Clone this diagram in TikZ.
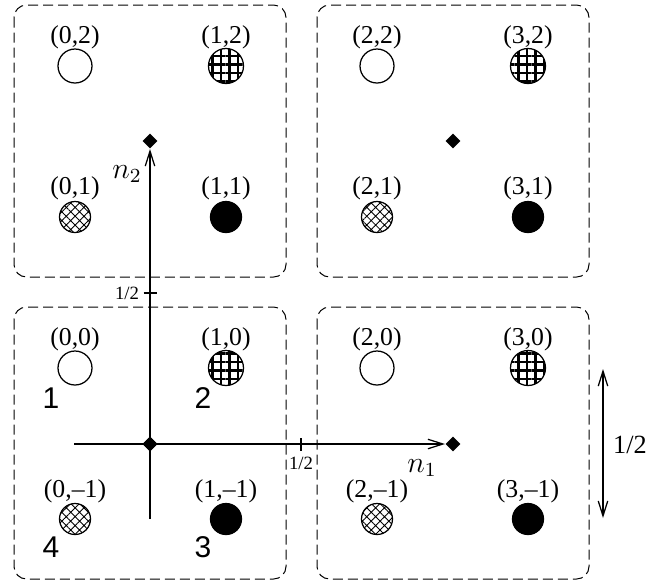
\documentclass[tikz,border=0pt]{standalone}
\usepackage{fontspec}
\setmainfont{Liberation Serif}
\newfontfamily\digitfont{Liberation Sans}
\usetikzlibrary{shapes.geometric,patterns.meta,arrows.meta}
\begin{document}
\begin{tikzpicture}[x=0.4pt,y=-0.4pt,
  box/.style={draw,dash pattern=on 4pt off 2pt,rounded corners=5pt,line width=0.4pt},
  site/.style={circle,draw,line width=0.5pt,inner sep=0pt},
  wsite/.style={site,minimum size=13.6pt,fill=white},
  gsite/.style={site,minimum size=14pt,pattern={Hatch[angle=0,distance=3.4pt,line width=0.9pt]}},
  hsite/.style={site,minimum size=12.4pt,pattern={Hatch[angle=45,distance=2.5pt,line width=0.35pt]}},
  bsite/.style={site,minimum size=12.4pt,fill=black},
  coordlab/.style={font=\fontsize{10.3}{12}\selectfont,inner sep=0pt},
  numlab/.style={font=\digitfont\fontsize{12}{14}\selectfont,inner sep=0pt},
  halflab/.style={font=\fontsize{7.5}{9}\selectfont,inner sep=0pt},
  axislab/.style={font=\fontsize{12}{14}\selectfont,inner sep=0pt},
  dmd/.style={diamond,fill=black,inner sep=0pt,minimum size=6pt},
  barb/.tip={Straight Barb[length=6pt,width=3.8pt,line width=0.5pt]},
  axis/.style={line width=0.5pt,-barb},
  tick/.style={line width=0.5pt}
]
\useasboundingbox (0,0) rectangle (648,583);
% boxes
\draw[box] (14,5) rectangle (286,277);
\draw[box] (317,5) rectangle (589,277);
\draw[box] (14,307) rectangle (286,579);
\draw[box] (317,307) rectangle (589,579);
% sites
\node[wsite] (c02) at (75,66) {};
\node[gsite] (c12) at (226,66) {};
\node[wsite] (c22) at (377,66) {};
\node[gsite] (c32) at (528,66) {};
\node[hsite] (c01) at (75,217) {};
\node[bsite] (c11) at (226,217) {};
\node[hsite] (c21) at (377,217) {};
\node[bsite] (c31) at (528,217) {};
\node[wsite] (c00) at (75,368) {};
\node[gsite] (c10) at (226,368) {};
\node[wsite] (c20) at (377,368) {};
\node[gsite] (c30) at (528,368) {};
\node[hsite] (c0m) at (75,519) {};
\node[bsite] (c1m) at (226,519) {};
\node[hsite] (c2m) at (377,519) {};
\node[bsite] (c3m) at (528,519) {};
% site labels
\node[coordlab] (l02) at (75,37) {(0,2)};
\node[coordlab] (l12) at (226,37) {(1,2)};
\node[coordlab] (l22) at (377,37) {(2,2)};
\node[coordlab] (l32) at (528,37) {(3,2)};
\node[coordlab] (l01) at (75,188) {(0,1)};
\node[coordlab] (l11) at (226,188) {(1,1)};
\node[coordlab] (l21) at (377,188) {(2,1)};
\node[coordlab] (l31) at (528,188) {(3,1)};
\node[coordlab] (l00) at (75,339) {(0,0)};
\node[coordlab] (l10) at (226,339) {(1,0)};
\node[coordlab] (l20) at (377,339) {(2,0)};
\node[coordlab] (l30) at (528,339) {(3,0)};
\node[coordlab] (l0m) at (75,491) {(0,–1)};
\node[coordlab] (l1m) at (226,491) {(1,–1)};
\node[coordlab] (l2m) at (377,491) {(2,–1)};
\node[coordlab] (l3m) at (528,491) {(3,–1)};
% numbers
\node[numlab] (n1) at (51,398) {1};
\node[numlab] (n2) at (203,398) {2};
\node[numlab] (n3) at (203,547) {3};
\node[numlab] (n4) at (51,547) {4};
% diamonds
\node[dmd] (o) at (150,444) {};
\node[dmd] (d1) at (453,444) {};
\node[dmd] (d2) at (150,141) {};
\node[dmd] (d3) at (453,141) {};
% axes
\coordinate (xs) at (74,444);
\coordinate (ys) at (150,519);
\draw[axis] (xs) -- (d1.west);
\draw[axis] (ys) -- (d2.south);
\node[dmd] at (o) {};
\node[axislab] (n1lab) at (422,468) {$n_1$};
\node[axislab] (n2lab) at (127,174) {$n_2$};
% ticks
\coordinate (tx) at (301,444);
\coordinate (ty) at (150,293);
\draw[tick] ([yshift=-2.6pt]tx) -- ([yshift=2.6pt]tx);
\draw[tick] ([xshift=-2.6pt]ty) -- ([xshift=2.6pt]ty);
\node[halflab] (hx) at (301,463) {1/2};
\node[halflab] (hy) at (127,293) {1/2};
% scale arrow
\coordinate (sa) at (603,369);
\coordinate (sb) at (603,518);
\draw[line width=0.5pt,barb-barb] (sa) -- (sb);
\node[font=\fontsize{10.5}{12}\selectfont,inner sep=0pt] (sl) at (630,445) {1/2};
\end{tikzpicture}
\end{document}
